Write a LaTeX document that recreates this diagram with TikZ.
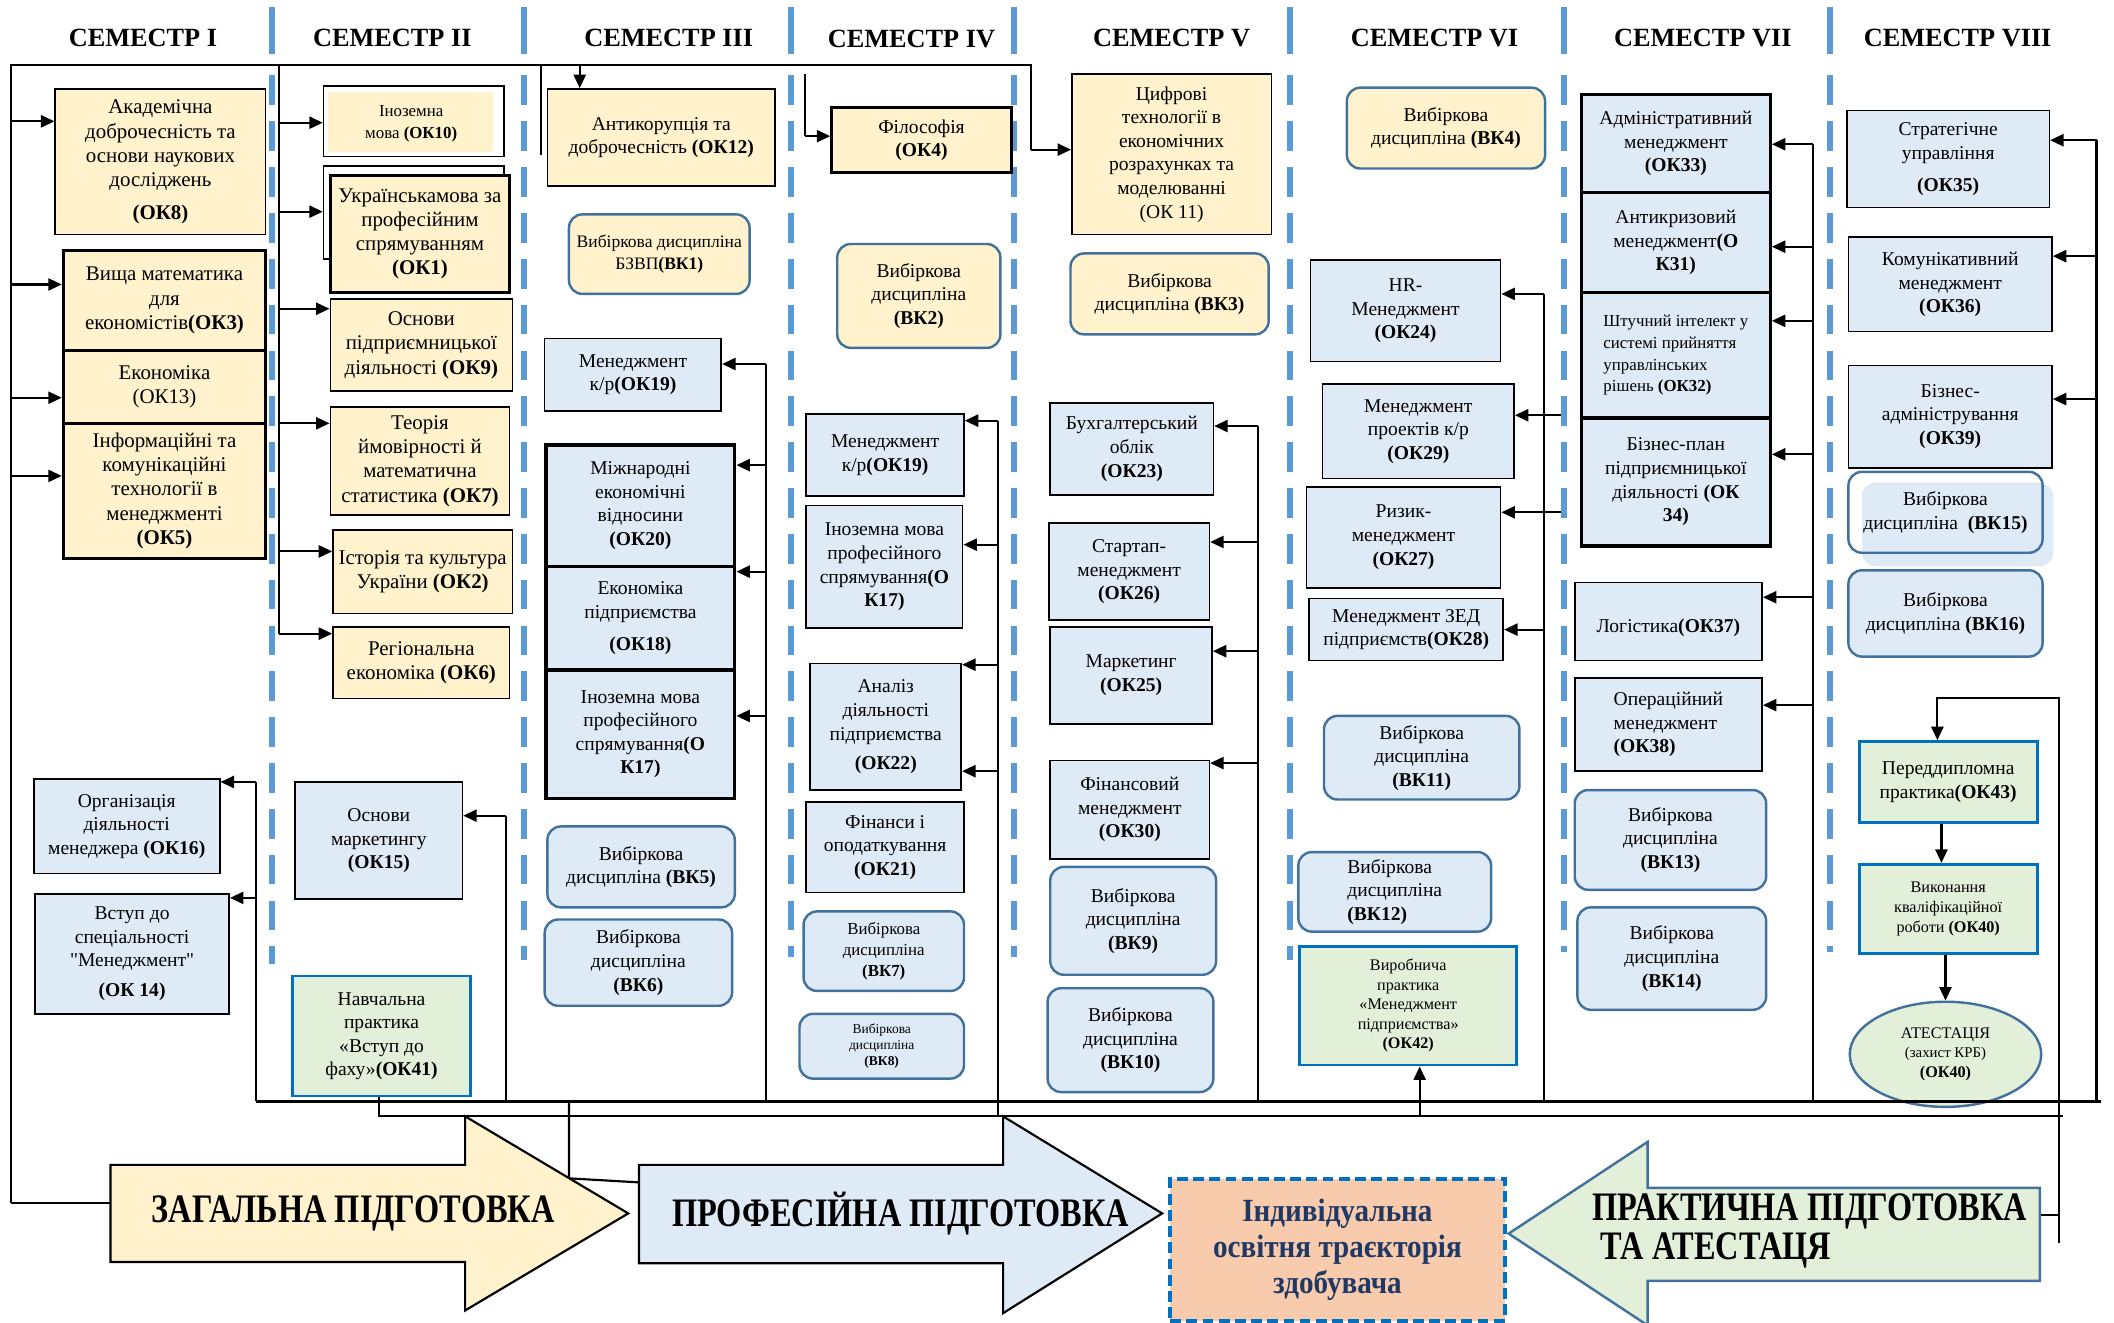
\documentclass[tikz,border=0pt]{standalone}
\usepackage{fontspec}
\setmainfont{Liberation Serif}
\newfontfamily\plainserif{Liberation Serif}
\usepackage{graphicx}
\usetikzlibrary{arrows.meta,shapes.geometric}
\definecolor{ylw}{HTML}{FFF2CC}
\definecolor{blu}{HTML}{DEEBF7}
\definecolor{grn}{HTML}{E2F0D9}
\definecolor{rbord}{HTML}{41719C}
\definecolor{pbord}{HTML}{0070C0}
\definecolor{sepc}{HTML}{5B9BD5}
\definecolor{peach}{HTML}{F8CBAD}
\definecolor{navy}{HTML}{1F3864}
\tikzset{
 base/.style={inner sep=0pt, align=center, font=\fontsize{14.5}{17.5}\selectfont},
 bigf/.style={font=\fontsize{15.5}{18}\selectfont},
 ybox/.style={base, draw=black, fill=ylw, line width=1.2pt},
 bbox/.style={base, draw=black, fill=blu, line width=1.2pt},
 tbox/.style={line width=2.4pt},
 yround/.style={base, draw=rbord, fill=ylw, line width=1.8pt, rounded corners=10pt},
 bround/.style={base, draw=rbord, fill=blu, line width=1.8pt, rounded corners=10pt},
 gbox/.style={base, draw=pbord, fill=grn, line width=2pt},
 conn/.style={line width=1.6pt},
 arr/.style={conn, -{Triangle[length=10pt,width=9pt]}},
 sepline/.style={draw=sepc, line width=4.5pt, dash pattern=on 22pt off 12pt},
 sepsolid/.style={draw=sepc, line width=4.5pt},
 hdr/.style={font=\fontsize{19.5}{22}\selectfont\bfseries, inner sep=0pt},
 bigtxt/.style={inner sep=0pt, align=left, font=\fontsize{30}{28}\selectfont\bfseries},
}
\newcommand{\BX}[7]{\node[#1, minimum width={(#5)-(#3)}, minimum height={(#6)-(#4)}] (#2) at ({((#3)+(#5))/2},{((#4)+(#6))/2}) {#7};}
\newcommand{\cnd}[1]{\scalebox{0.8}[1]{#1}}
\newcommand{\cndw}[1]{\scalebox{0.9}[1]{#1}}
\begin{document}
\begin{tikzpicture}[x=1pt,y=-1pt]
\useasboundingbox (0,0) rectangle (1568,981);

% separators
\foreach \sx/\sy in {202/715, 389/712, 587/710, 752/710, 957/712, 1160/706, 1357/706} {
  \draw[sepsolid] (\sx,5) -- (\sx,40);
  \draw[sepline] (\sx,56) -- (\sx,\sy);
}

% headers
\node[hdr] (h1) at (106,28) {СЕМЕСТР I};
\node[hdr] (h2) at (291,28) {СЕМЕСТР II};
\node[hdr] (h3) at (496,28) {СЕМЕСТР III};
\node[hdr] (h4) at (676,29) {СЕМЕСТР IV};
\node[hdr] (h5) at (869,28) {СЕМЕСТР V};
\node[hdr] (h6) at (1064,28) {СЕМЕСТР VI};
\node[hdr] (h7) at (1263,28) {СЕМЕСТР VII};
\node[hdr] (h8) at (1452,28) {СЕМЕСТР VIII};

% ---------- Column I
\BX{ybox,bigf}{ok8}{41}{66}{197}{174}{Академічна\\доброчесність та\\основи наукових\\досліджень\\[6pt]\textbf{(ОК8)}}
\BX{ybox,tbox,bigf}{ok3}{47}{186}{197}{260}{Вища математика\\для\\економістів\textbf{(ОК3)}}
\BX{ybox,tbox,bigf}{ok13}{47}{260}{197}{314}{Економіка\\(ОК13)}
\BX{ybox,tbox,bigf}{ok5}{47}{314}{197}{414}{Інформаційні та\\комунікаційні\\технології в\\менеджменті\\\textbf{(ОК5)}}
\draw[conn] (8,892) -- (8,48) -- (765,48) -- (765,111);
\draw[arr] (8,90) -- (ok8.west |- 0,90);
\draw[arr] (8,211) -- (ok3.west |- 0,211);
\draw[arr] (8,295) -- (ok13.west |- 0,295);
\draw[arr] (8,353) -- (ok5.west |- 0,353);

\BX{bbox}{ok16}{25}{578}{163}{648}{Організація\\діяльності\\менеджера \textbf{(ОК16)}}
\BX{bbox}{ok14}{26}{663}{170}{752}{Вступ до\\спеціальності\\{\plainserif"}Менеджмент{\plainserif"}\\[5pt]\textbf{(ОК 14)}}
\draw[conn] (190,817) -- (190,580);
\draw[arr] (190,580) -- (ok16.east |- 0,580);
\draw[arr] (190,666) -- (ok14.east |- 0,666);

% ---------- Column II
\draw[conn] (207,48) -- (207,470);
\BX{base,draw=black,line width=1.2pt,fill=white}{ok10o}{240}{64}{374}{116}{}
\fill[ylw] (243,68) rectangle (366,113);
\node[base, font=\fontsize{12.5}{16}\selectfont] (ok10) at (305,92) {Іноземна\\мова \textbf{(ОК10)}};
\BX{base,draw=black,line width=1.2pt,fill=white}{ok1b}{240}{123}{374}{192}{}
\BX{ybox,tbox,bigf}{ok1}{245}{130}{378}{217}{Українськамова за\\професійним\\спрямуванням\\\textbf{(ОК1)}}
\BX{ybox,bigf}{ok9}{245}{222}{380}{290}{Основи\\підприємницької\\діяльності \textbf{(ОК9)}}
\BX{ybox,bigf}{ok7}{245}{302}{378}{382}{Теорія\\ймовірності й\\математична\\статистика \textbf{(ОК7)}}
\BX{ybox,bigf}{ok2}{247}{393}{380}{455}{Історія та культура\\України \textbf{(ОК2)}}
\BX{ybox,bigf}{ok6}{247}{465}{378}{518}{Регіональна\\економіка \textbf{(ОК6)}}
\draw[arr] (207,91) -- (ok10o.west |- 0,91);
\draw[arr] (207,157) -- (ok1b.west |- 0,157);
\draw[arr] (207,229) -- (ok9.west |- 0,229);
\draw[arr] (207,314) -- (ok7.west |- 0,314);
\draw[arr] (207,409) -- (ok2.west |- 0,409);
\draw[arr] (207,470) -- (ok6.west |- 0,470);

\BX{bbox}{ok15}{219}{580}{343}{667}{Основи\\маркетингу\\\textbf{(ОК15)}}
\draw[conn] (375,817) -- (375,605);
\draw[arr] (375,605) -- (ok15.east |- 0,605);
\BX{gbox}{ok41}{217}{724}{349}{813}{Навчальна\\практика\\«Вступ до\\фаху»\textbf{(ОК41)}}

% ---------- Column III
\draw[conn] (401,48) -- (401,115);
\BX{ybox}{ok12}{406}{66}{575}{138}{Антикорупція та\\доброчесність \textbf{(ОК12)}}
\draw[arr] (430,48) -- (ok12.north -| 430,0);
\BX{yround, font=\fontsize{13}{16}\selectfont}{vk1}{422}{159}{556}{218}{Вибіркова дисципліна\\БЗВП\textbf{(ВК1)}}
\BX{bbox}{ok19a}{404}{251}{535}{305}{Менеджмент\\к/р\textbf{(ОК19)}}
\BX{bbox,tbox}{ok20}{405}{330}{545}{420}{Міжнародні\\економічні\\відносини\\\textbf{(ОК20)}}
\BX{bbox,tbox}{ok18}{405}{420}{545}{497}{Економіка\\підприємства\\[6pt]\textbf{(ОК18)}}
\BX{bbox,tbox}{ok17a}{405}{497}{545}{592}{Іноземна мова\\професійного\\спрямування\textbf{(О}\\\textbf{К17)}}
\draw[conn] (568,817) -- (568,270);
\draw[arr] (568,270) -- (ok19a.east |- 0,270);
\draw[arr] (568,345) -- (ok20.east |- 0,345);
\draw[arr] (568,424) -- (ok18.east |- 0,424);
\draw[arr] (568,531) -- (ok17a.east |- 0,531);
\BX{bround}{vk5}{406}{613}{545}{673}{Вибіркова\\дисципліна \textbf{(ВК5)}}
\BX{bround}{vk6}{404}{682}{543}{746}{Вибіркова\\дисципліна\\\textbf{(ВК6)}}

% ---------- Column IV
\BX{ybox,tbox}{ok4}{617}{80}{750}{128}{Філософія\\\textbf{(ОК4)}}
\draw[conn] (597,55) -- (597,101);
\draw[arr] (597,101) -- (ok4.west |- 0,101);
\BX{yround}{vk2}{621}{181}{742}{258}{Вибіркова\\дисципліна\\\textbf{(ВК2)}}
\BX{bbox}{ok19b}{598}{307}{715}{368}{Менеджмент\\к/р\textbf{(ОК19)}}
\BX{bbox}{ok17b}{598}{375}{714}{466}{Іноземна мова\\професійного\\спрямування\textbf{(О}\\\textbf{К17)}}
\BX{bbox}{ok22}{601}{492}{713}{586}{Аналіз\\діяльності\\підприємства\\[4pt]\textbf{(ОК22)}}
\BX{bbox}{ok21}{598}{595}{715}{662}{Фінанси і\\оподаткування\\\textbf{(ОК21)}}
\BX{bround, font=\fontsize{12.5}{15.5}\selectfont}{vk7}{596}{676}{715}{735}{Вибіркова\\дисципліна\\\textbf{(ВК7)}}
\BX{bround, font=\fontsize{10}{12}\selectfont}{vk8}{593}{752}{715}{800}{Вибіркова\\дисципліна\\\textbf{(ВК8)}}
\draw[conn] (740,828) -- (740,312);
\draw[arr] (740,312) -- (ok19b.east |- 0,312);
\draw[arr] (740,404) -- (ok17b.east |- 0,404);
\draw[arr] (740,493) -- (ok22.east |- 0,493);
\draw[arr] (740,572) -- (ok22.east |- 0,572);

% ---------- Column V
\BX{ybox}{ok11}{795}{55}{943}{174}{Цифрові\\технології в\\економічних\\розрахунках та\\моделюванні\\(ОК 11)}
\draw[arr] (765,111) -- (ok11.west |- 0,111);
\BX{yround}{vk3}{794}{188}{941}{248}{Вибіркова\\дисципліна \textbf{(ВК3)}}
\BX{bbox}{ok23}{779}{299}{900}{367}{Бухгалтерський\\облік\\\textbf{(ОК23)}}
\BX{bbox}{ok26}{778}{388}{897}{460}{Стартап-\\менеджмент\\\textbf{(ОК26)}}
\BX{bbox}{ok25}{779}{465}{899}{537}{Маркетинг\\\textbf{(ОК25)}}
\BX{bbox}{ok30}{779}{564}{897}{637}{Фінансовий\\менеджмент\\\textbf{(ОК30)}}
\BX{bround}{vk9}{779}{643}{902}{723}{Вибіркова\\дисципліна\\\textbf{(ВК9)}}
\BX{bround}{vk10}{777}{733}{900}{810}{Вибіркова\\дисципліна\\\textbf{(ВК10)}}
\draw[conn] (933,817) -- (933,316);
\draw[arr] (933,316) -- (ok23.east |- 0,316);
\draw[arr] (933,402) -- (ok26.east |- 0,402);
\draw[arr] (933,483) -- (ok25.east |- 0,483);
\draw[arr] (933,566) -- (ok30.east |- 0,566);

% ---------- Column VI
\BX{yround}{vk4}{999}{65}{1146}{125}{Вибіркова\\дисципліна \textbf{(ВК4)}}
\BX{bbox}{ok24}{972}{193}{1113}{268}{HR-\\Менеджмент\\\textbf{(ОК24)}}
\BX{bbox}{ok29}{981}{285}{1123}{355}{Менеджмент\\проектів к/р\\\textbf{(ОК29)}}
\BX{bbox}{ok27}{969}{361}{1113}{436}{Ризик-\\менеджмент\\\textbf{(ОК27)}}
\BX{bbox}{ok28}{971}{444}{1115}{490}{Менеджмент ЗЕД\\підприємств\textbf{(ОК28)}}
\BX{bround}{vk11}{982}{531}{1127}{593}{Вибіркова\\дисципліна\\\textbf{(ВК11)}}
\BX{bround, align=left}{vk12}{963}{632}{1106}{691}{Вибіркова\\дисципліна\\\textbf{(ВК12)}}
\BX{gbox, font=\fontsize{12}{14.5}\selectfont}{ok42}{964}{702}{1125}{790}{Виробнича\\практика\\«Менеджмент\\підприємства»\\\textbf{(ОК42)}}
\draw[conn] (1145,817) -- (1145,218);
\draw[arr] (1145,218) -- (ok24.east |- 0,218);
\draw[arr] (1158,308) -- (ok29.east |- 0,308);
\draw[arr] (1158,380) -- (ok27.east |- 0,380);
\draw[arr] (1145,467) -- (ok28.east |- 0,467);
\draw[arr] (1053,828) -- (ok42.south -| 1053,0);

% ---------- Column VII
\BX{bbox,tbox}{ok33}{1173}{70}{1313}{143}{Адміністративний\\менеджмент\\\textbf{(ОК33)}}
\BX{bbox,tbox}{ok31}{1173}{143}{1313}{217}{Антикризовий\\менеджмент\textbf{(О}\\\textbf{К31)}}
\BX{bbox,tbox, font=\fontsize{12.5}{16}\selectfont, align=left}{ok32}{1173}{217}{1313}{310}{Штучний інтелект у\\системі прийняття\\управлінських\\рішень \textbf{(ОК32)}}
\BX{bbox,tbox}{ok34}{1173}{310}{1313}{405}{Бізнес-план\\підприємницької\\діяльності \textbf{(ОК}\\\textbf{34)}}
\BX{bbox}{ok37}{1168}{432}{1307}{490}{\\[2pt]Логістика\textbf{(ОК37)}}
\BX{bbox, align=left}{ok38}{1168}{503}{1307}{572}{Операційний\\менеджмент\\\textbf{(ОК38)}}
\BX{bround}{vk13}{1168}{586}{1310}{660}{Вибіркова\\дисципліна\\\textbf{(ВК13)}}
\BX{bround}{vk14}{1170}{673}{1310}{749}{Вибіркова\\дисципліна\\\textbf{(ВК14)}}
\draw[conn] (1345,817) -- (1345,107);
\draw[arr] (1345,107) -- (ok33.east |- 0,107);
\draw[arr] (1345,183) -- (ok31.east |- 0,183);
\draw[arr] (1345,238) -- (ok32.east |- 0,238);
\draw[arr] (1345,337) -- (ok34.east |- 0,337);
\draw[arr] (1345,443) -- (ok37.east |- 0,443);
\draw[arr] (1345,523) -- (ok38.east |- 0,523);

% ---------- Column VIII
\BX{bbox}{ok35}{1370}{82}{1520}{154}{Стратегічне\\управління\\[6pt]\textbf{(ОК35)}}
\BX{bbox}{ok36}{1371}{176}{1522}{246}{Комунікативний\\менеджмент\\\textbf{(ОК36)}}
\BX{bbox}{ok39}{1371}{271}{1522}{347}{Бізнес-\\адміністрування\\\textbf{(ОК39)}}
\fill[blu, rounded corners=10pt] (1381,358) rectangle (1523,420);
\BX{base, draw=rbord, line width=1.8pt, rounded corners=10pt}{vk15}{1371}{350}{1515}{410}{Вибіркова\\дисципліна~~\textbf{(ВК15)}}
\BX{bround}{vk16}{1371}{423}{1515}{487}{Вибіркова\\дисципліна \textbf{(ВК16)}}
\BX{gbox}{ok43}{1379}{550}{1511}{610}{Переддипломна\\практика\textbf{(ОК43)}}
\BX{gbox, font=\fontsize{12}{15}\selectfont}{ok40}{1379}{641}{1511}{707}{Виконання\\кваліфікаційної\\роботи \textbf{(ОК40)}}
\node[ellipse, draw=rbord, fill=grn, line width=1.8pt, minimum width=142pt, minimum height=78pt, inner sep=0pt, align=center, font=\fontsize{12}{14.5}\selectfont] (att) at (1443,782) {АТЕСТАЦІЯ\\{\fontsize{11}{14}\selectfont(захист КРБ)}\\\textbf{(ОК40)}};
\draw[conn] (1555,817) -- (1555,104);
\draw[arr] (1555,104) -- (ok35.east |- 0,104);
\draw[arr] (1555,190) -- (ok36.east |- 0,190);
\draw[arr] (1555,296) -- (ok39.east |- 0,296);
\draw[arr] (ok43.south -| 1440,0) -- (ok40.north -| 1440,0);
\draw[arr] (ok40.south -| 1443,0) -- (att.north);
\draw[arr] (1527,922) -- (1527,518) -- (1437,518) -- (ok43.north -| 1437,0);

% ---------- bottom buses
\draw[conn] (190,817) -- (1558,817);
\draw[conn] (ok41.south -| 281,0) -- (281,828) -- (1530,828);
\draw[conn] (422,817) -- (422,874) -- (474,877);
\draw[conn] (8,892) -- (82,892);
\draw[conn] (1513,901) -- (1527,901);

% ---------- bottom arrows
\draw[line width=1.6pt, fill=ylw] (82,864) -- (345,864) -- (345,828) -- (466,900) -- (345,972) -- (345,936) -- (82,936) -- cycle;
\node[bigtxt] (gen) at (262,900) {\cnd{ЗАГАЛЬНА ПІДГОТОВКА}};
\draw[line width=1.6pt, fill=blu] (474,864) -- (744,864) -- (744,828) -- (862,900) -- (744,974) -- (744,937) -- (474,937) -- cycle;
\node[bigtxt] (prof) at (668,900) {\cnd{ПРОФЕСІЙНА ПІДГОТОВКА}};
\node[draw=pbord, fill=peach, line width=3pt, dash pattern=on 8pt off 4pt, minimum width=248pt, minimum height=105pt, inner sep=0pt, align=center, text=navy, font=\fontsize{24}{26.5}\selectfont\bfseries] (ind) at (992,927) {\cndw{Індивідуальна}\\\cndw{освітня траєкторія}\\\cndw{здобувача}};
\draw[draw=rbord, line width=1.8pt, fill=grn] (1513,881) -- (1222,881) -- (1222,847) -- (1119,915) -- (1222,983) -- (1222,950) -- (1513,950) -- cycle;
\node[bigtxt, anchor=west, font=\fontsize{30}{29}\selectfont\bfseries] (prac) at (1181,913) {\cnd{ПРАКТИЧНА ПІДГОТОВКА}\\\cnd{ ТА АТЕСТАЦЯ}};
\end{tikzpicture}
\end{document}
